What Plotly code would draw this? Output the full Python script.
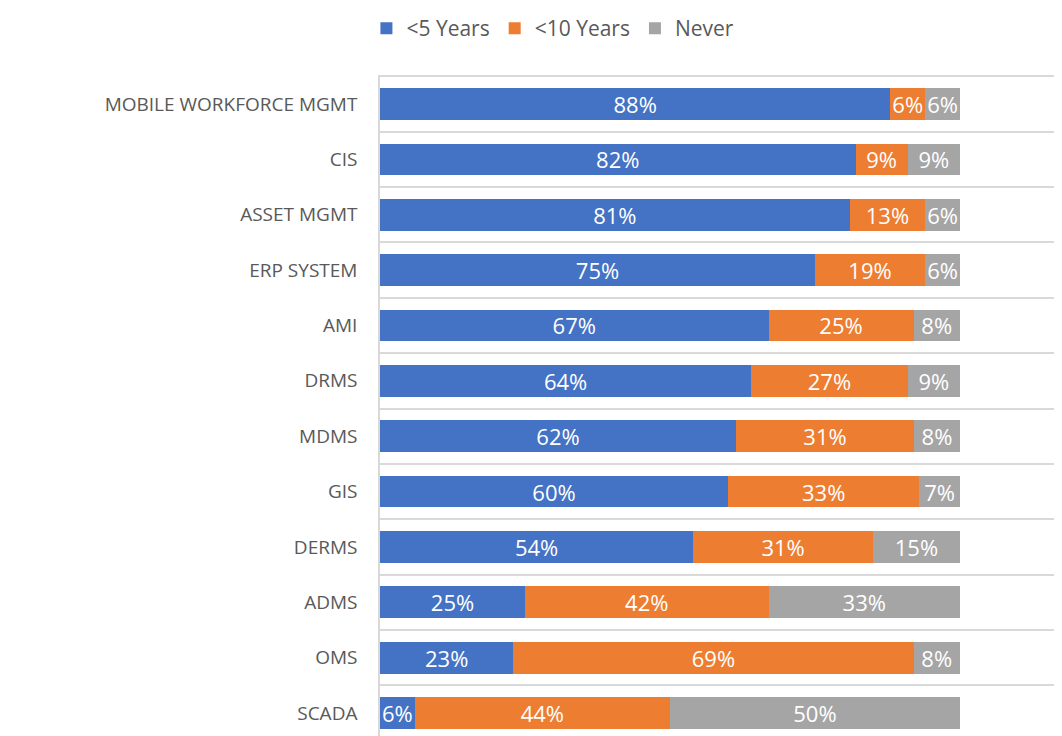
import plotly.graph_objects as go

categories = ["SCADA", "OMS", "ADMS", "DERMS", "GIS", "MDMS", "DRMS", "AMI",
              "ERP SYSTEM", "ASSET MGMT", "CIS", "MOBILE WORKFORCE MGMT"]
under5 = [6, 23, 25, 54, 60, 62, 64, 67, 75, 81, 82, 88]
under10 = [44, 69, 42, 31, 33, 31, 27, 25, 19, 13, 9, 6]
never = [50, 8, 33, 15, 7, 8, 9, 8, 6, 6, 9, 6]
series_names = ["<5 Years", "<10 Years", "Never"]
colors = ["#4472C4", "#ED7D31", "#A5A5A5"]

fig = go.Figure()
for name, vals, col in zip(series_names, [under5, under10, never], colors):
    fig.add_trace(go.Bar(
        y=categories, x=vals, name=name, orientation="h",
        marker=dict(color=col, line=dict(width=0)),
        text=[f"{v}%" for v in vals], textposition="inside",
        insidetextanchor="middle", textangle=0,
        textfont=dict(color="white", size=22, family="Open Sans"),
        width=0.573,
    ))

fig.update_layout(
    width=1054, height=728,
    barmode="stack", barnorm="percent",
    paper_bgcolor="white", plot_bgcolor="white",
    margin=dict(l=372, r=0, t=67, b=0),
    uniformtext=dict(minsize=22, mode="show"),
    legend=dict(orientation="h", xref="container", yref="container",
                x=0.517, xanchor="center", y=1.0, yanchor="top",
                font=dict(size=21, family="Open Sans", color="#595959"),
                itemwidth=30, traceorder="normal"),
    xaxis=dict(range=[0, 117.6], showgrid=False, showticklabels=False,
               zeroline=False, showline=False, fixedrange=True),
    yaxis=dict(type="category", categoryorder="array", categoryarray=categories,
               range=[-0.415, 11.524], tickson="boundaries",
               showgrid=True, gridcolor="#D9D9D9", gridwidth=1.5,
               showline=True, linecolor="#D9D9D9", linewidth=1.5,
               ticks="", ticklabelstandoff=17,
               tickfont=dict(size=19, family="Open Sans", color="#595959")),
)

fig.write_html("out.html")
